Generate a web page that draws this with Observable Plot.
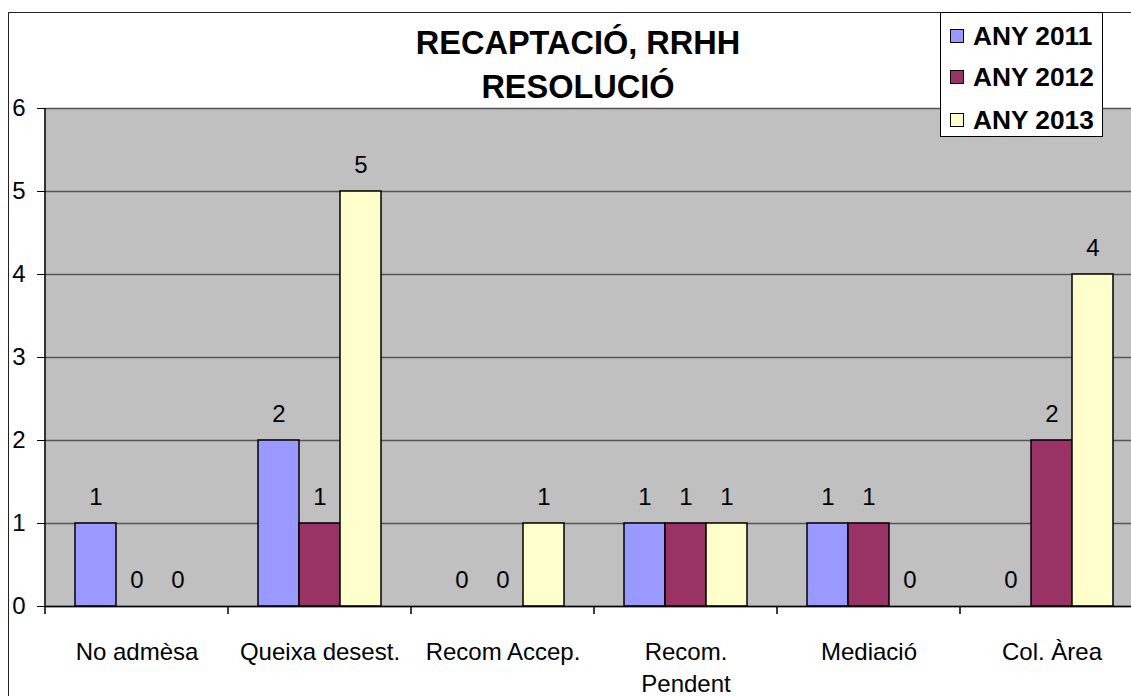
<!DOCTYPE html>
<html><head><meta charset="utf-8">
<script src="https://cdn.jsdelivr.net/npm/d3@7"></script>
<script src="https://cdn.jsdelivr.net/npm/@observablehq/plot@0.6"></script>
<style>
html,body{margin:0;padding:0;overflow:hidden;background:#fff;}
#wrap{position:relative;width:1150px;height:696px;font-family:"Liberation Sans",Arial,sans-serif;color:#000;}
#chart{position:absolute;left:0;top:0;}
#border{position:absolute;left:8px;top:12px;width:1300px;height:800px;border-left:1.5px solid #222;border-top:1.5px solid #222;pointer-events:none;}
#title{position:absolute;left:378px;width:400px;top:21px;text-align:center;font-weight:bold;font-size:32.5px;line-height:44px;}
#legend{position:absolute;left:940px;top:12px;width:163px;height:125px;background:#fff;border:1px solid #000;box-sizing:border-box;}
.item{position:absolute;left:0;height:26px;width:160px;}
.sw{position:absolute;left:9px;top:6px;width:14px;height:14px;box-sizing:border-box;border:1.5px solid #000;}
.lab{position:absolute;left:32px;top:0;font-weight:bold;font-size:26.3px;line-height:26px;white-space:nowrap;}
</style>
</head>
<body>
<div id="wrap">
  <div id="chart"></div>
  <div id="border"></div>
  <div id="title">RECAPTACIÓ, RRHH<br>RESOLUCIÓ</div>
  <div id="legend"></div>
</div>
<script>
const categories = ["No admèsa", "Queixa desest.", "Recom Accep.", "Recom. Pendent", "Mediació", "Col. Àrea"];
const categoryLabels = ["No admèsa", "Queixa desest.", "Recom Accep.", "Recom.\nPendent", "Mediació", "Col. Àrea"];
const series = ["ANY 2011", "ANY 2012", "ANY 2013"];
const values2011 = [1, 2, 0, 1, 1, 0];
const values2012 = [0, 1, 0, 1, 1, 2];
const values2013 = [0, 5, 1, 1, 0, 4];
const colors = ["#9999ff", "#993366", "#ffffcc"];
const yTicks = [0, 1, 2, 3, 4, 5, 6];

const valuesBySeries = [values2011, values2012, values2013];
const table = categories.flatMap((c, i) => series.map((s, j) => ({category: c, series: s, value: valuesBySeries[j][i]})));

const W = 1150, H = 696;
const plot = Plot.plot({
  width: W, height: H,
  marginLeft: 45, marginRight: 7, marginTop: 108, marginBottom: 90,
  style: {fontFamily: '"Liberation Sans", Arial, sans-serif', fontSize: "24px", color: "#000", background: "transparent"},
  fx: {domain: categories, padding: 0, label: null},
  x: {domain: series, paddingInner: 0, paddingOuter: 0.73, axis: null},
  y: {domain: [0, 6], label: null},
  color: {domain: series, range: colors},
  marks: [
    Plot.frame({fill: "#c0c0c0", stroke: "none", insetLeft: -1, insetRight: -1}),
    Plot.gridY(yTicks, {stroke: "#555", strokeOpacity: 1, strokeWidth: 1.5}),
    Plot.barY(table, {fx: "category", x: "series", y: "value", fill: "series", stroke: "#000", strokeWidth: 1.5}),
    Plot.ruleY([0], {stroke: "#000", strokeWidth: 1.5}),
    Plot.text(table, {fx: "category", x: "series", y: "value", text: d => String(d.value), dy: -26, fontSize: 24, fill: "#000"}),
    Plot.axisY(yTicks, {tickSize: 8, tickPadding: 12, fontSize: 24, stroke: "#000", fill: "#000", label: null, tickFormat: d => String(d)}),
    Plot.axisFx({anchor: "bottom", tickSize: 0, tickPadding: 30, fontSize: 24, lineHeight: 1.36, fill: "#000", label: null,
      tickFormat: d => categoryLabels[categories.indexOf(d)]})
  ]
});
document.getElementById("chart").appendChild(plot);

// axis line and category boundary ticks, positioned with Plot's own scales
const fx = plot.scale("fx"), ys = plot.scale("y");
const y0 = ys.apply(0), y6 = ys.apply(6);
const bounds = categories.map(c => fx.apply(c));
bounds.push(fx.apply(categories[categories.length - 1]) + fx.bandwidth);
const g = d3.select(plot).append("g").attr("stroke", "#000").attr("stroke-width", 1.5);
g.append("line").attr("x1", bounds[0]).attr("x2", bounds[0]).attr("y1", y6).attr("y2", y0 + 8);
bounds.slice(1).forEach(x => g.append("line").attr("x1", x).attr("x2", x).attr("y1", y0).attr("y2", y0 + 8));

// legend
const centers = [23, 64, 107];
const legend = d3.select("#legend");
series.forEach((s, i) => {
  const it = legend.append("div").attr("class", "item").style("top", (centers[i] - 13) + "px");
  it.append("div").attr("class", "sw").style("background", colors[i]);
  it.append("div").attr("class", "lab").text(s);
});
</script>
</body></html>
